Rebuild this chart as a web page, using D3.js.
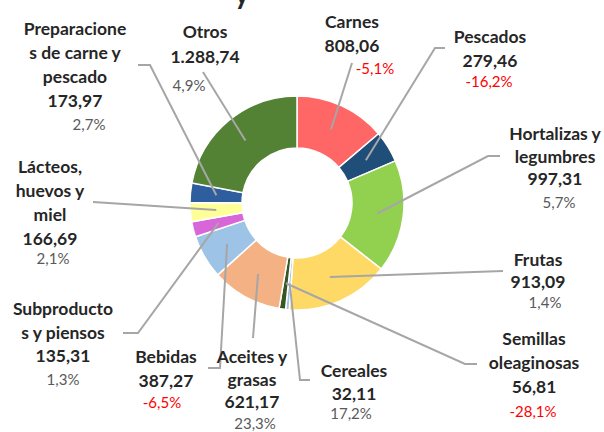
<!DOCTYPE html>
<html>
<head>
<meta charset="utf-8">
<script src="https://cdn.jsdelivr.net/npm/d3@7"></script>
<style>
  html, body { margin: 0; padding: 0; background: #ffffff; }
  svg { display: block; }
</style>
</head>
<body>
<div id="chart"></div>
<script>
// ---------- DATA ----------
const categories = [
  "Carnes", "Pescados", "Hortalizas y legumbres", "Frutas", "Cereales",
  "Semillas oleaginosas", "Aceites y grasas", "Bebidas",
  "Subproductos y piensos", "Lácteos, huevos y miel",
  "Preparaciones de carne y pescado", "Otros"
];
const values = [808.06, 279.46, 997.31, 913.09, 32.11, 56.81, 621.17, 387.27, 135.31, 166.69, 173.97, 1288.74];
const changes = [-5.1, -16.2, 5.7, 1.4, 17.2, -28.1, 23.3, -6.5, 1.3, 2.1, 2.7, 4.9];
const titleFragment = "y";

// ---------- STYLE / LAYOUT ----------
const colors = ["#FF6666", "#1F4E79", "#92D050", "#FFD966", "#9DC3E6", "#375623",
                "#F4B183", "#9DC3E6", "#D966D9", "#FFFF99", "#2F5E9E", "#548235"];
// per label: x centre, first baseline, line step, line cut lengths, pct position, leader points
const layout = [
  {x: 352, y: 28,  step: 24,   cuts: [],        px: 375, py: 74,  pts: [[352, 63]]},
  {x: 490, y: 43,  step: 24,   cuts: [],        px: 489, py: 87,  pts: [[445, 48], [435, 48]]},
  {x: 555, y: 140, step: 22.5, cuts: [12],      px: 559, py: 208, pts: [[500, 156], [488, 156]]},
  {x: 538, y: 266, step: 22,   cuts: [],        px: 545, py: 308, pts: [[503, 271]]},
  {x: 354, y: 377, step: 23,   cuts: [],        px: 351, py: 419, pts: [[310, 380], [300, 380]]},
  {x: 534, y: 345, step: 24,   cuts: [8],       px: 533, py: 417, pts: [[477, 364], [465, 364]]},
  {x: 252, y: 363, step: 22.5, cuts: [9],       px: 255, py: 429, pts: [[253, 338]]},
  {x: 166, y: 363, step: 24,   cuts: [],        px: 162, py: 408, pts: [[208, 368], [220, 368]]},
  {x: 63,  y: 315, step: 23.5, cuts: [11],      px: 63,  py: 385, pts: [[123, 333], [138, 333]]},
  {x: 50,  y: 173, step: 24,   cuts: [8, 9],    px: 53,  py: 264, pts: [[93, 202]]},
  {x: 75,  y: 35,  step: 24,   cuts: [12, 12],  px: 89,  py: 130, pts: [[138, 65], [150, 65]]},
  {x: 205, y: 38,  step: 25,   cuts: [],        px: 189, py: 91,  pts: [[203, 72]]}
];

const W = 604, H = 432;
const cx = 297, cy = 203, rOuter = 107, rInner = 55;

const locale = d3.formatLocale({decimal: ",", thousands: ".", grouping: [3], currency: ["", "€"], minus: "-"});
const fmtVal = locale.format(",.2f");
const fmtPct = locale.format(".1f");

const svg = d3.select("#chart").append("svg")
  .attr("width", W).attr("height", H)
  .style("font-family", "Lato, 'Open Sans', sans-serif");

// title fragment (cut off at top in the reference)
svg.append("text")
  .attr("x", 242).attr("y", 4)
  .attr("text-anchor", "middle")
  .attr("font-size", 28).attr("font-weight", 700)
  .attr("fill", "#262626")
  .text(titleFragment);

const data = categories.map((c, i) => ({name: c, value: values[i], change: changes[i], i}));

const pie = d3.pie().value(d => d.value).sort(null);
const arcs = pie(data);
const arc = d3.arc().innerRadius(rInner).outerRadius(rOuter);
const midArc = d3.arc().innerRadius((rInner + rOuter) / 2).outerRadius((rInner + rOuter) / 2);

const g = svg.append("g").attr("transform", `translate(${cx},${cy})`);
g.selectAll("path.slice").data(arcs).join("path")
  .attr("class", "slice")
  .attr("d", arc)
  .attr("fill", d => colors[d.data.i])
  .attr("stroke", "#ffffff")
  .attr("stroke-width", 1.5);

// leader lines
const line = d3.line();
svg.selectAll("path.leader").data(arcs).join("path")
  .attr("class", "leader")
  .attr("d", d => {
    const c = midArc.centroid(d);
    const pts = layout[d.data.i].pts.concat([[cx + c[0], cy + c[1]]]);
    return line(pts);
  })
  .attr("fill", "none")
  .attr("stroke", "#A6A6A6")
  .attr("stroke-width", 2);

// labels
function splitLines(name, cuts) {
  const out = [];
  let rest = name;
  cuts.forEach(n => { out.push(rest.slice(0, n).trim()); rest = rest.slice(n).trim(); });
  out.push(rest.trim());
  return out;
}

data.forEach(d => {
  const L = layout[d.i];
  const lines = splitLines(d.name, L.cuts).concat([fmtVal(d.value)]);
  const t = svg.append("text")
    .attr("text-anchor", "middle")
    .attr("font-size", 17.5).attr("font-weight", 700)
    .attr("fill", "#262626");
  lines.forEach((s, k) => {
    t.append("tspan").attr("x", L.x).attr("y", L.y + k * L.step).text(s);
  });
  svg.append("text")
    .attr("x", L.px).attr("y", L.py)
    .attr("text-anchor", "middle")
    .attr("font-size", 15)
    .attr("fill", d.change < 0 ? "#FF0000" : "#595959")
    .text(fmtPct(d.change) + "%");
});
</script>
</body>
</html>
